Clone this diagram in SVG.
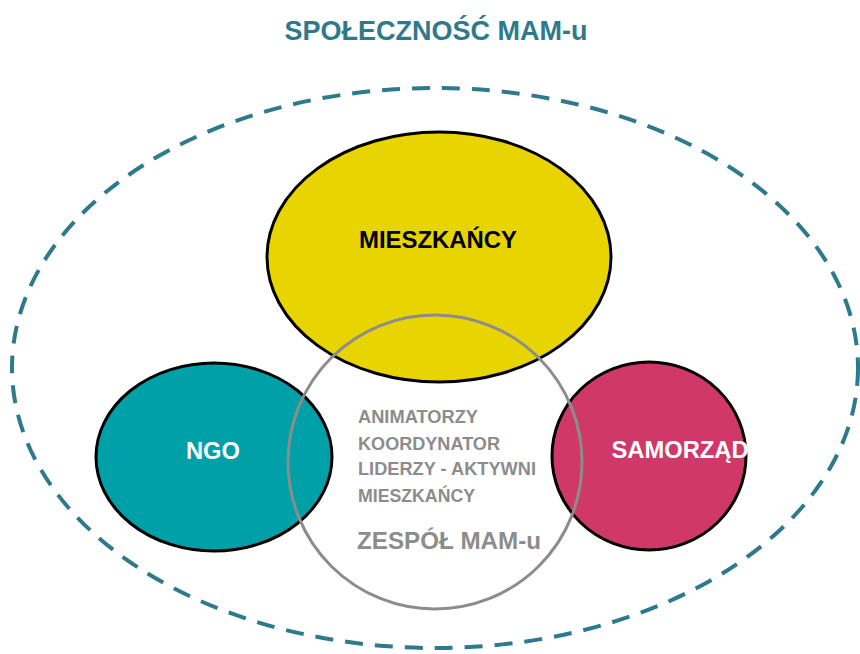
<svg xmlns="http://www.w3.org/2000/svg" width="860" height="654" viewBox="0 0 860 654">
<style>
text{font-family:"Liberation Sans",Arial,sans-serif;font-weight:bold}
.title{fill:#2E7A8C;font-size:28px}
.node{stroke:#000;stroke-width:3}
.lbl{font-size:24px;text-anchor:middle}
.team{fill:#8C8C8C;font-size:18.5px}
</style>
<rect width="860" height="654" fill="#fff"/>
<text class="title" x="436" y="40" text-anchor="middle" textLength="303" lengthAdjust="spacingAndGlyphs">SPOŁECZNOŚĆ MAM-u</text>
<g id="community">
<ellipse cx="435" cy="368" rx="423" ry="280" fill="none" stroke="#2E7A8C" stroke-width="4" stroke-dasharray="18 12"/>
</g>
<g id="mieszkancy">
<ellipse class="node" cx="439" cy="257" rx="172" ry="125" fill="#E8D400"/>
<text class="lbl" x="438" y="248" fill="#000" textLength="158" lengthAdjust="spacingAndGlyphs">MIESZKAŃCY</text>
</g>
<g id="ngo">
<ellipse class="node" cx="214" cy="457" rx="118" ry="94" fill="#00A0A8"/>
<text class="lbl" x="213" y="459" fill="#fff" textLength="54" lengthAdjust="spacingAndGlyphs">NGO</text>
</g>
<g id="samorzad">
<ellipse class="node" cx="649" cy="456" rx="97" ry="94" fill="#D0386A"/>
<text class="lbl" x="680" y="458" fill="#fff" textLength="137" lengthAdjust="spacingAndGlyphs">SAMORZĄD</text>
</g>
<g id="zespol">
<circle cx="435" cy="462" r="147" fill="none" stroke="#8C8C8C" stroke-width="3"/>
<text class="team" x="358" y="423" textLength="120" lengthAdjust="spacingAndGlyphs">ANIMATORZY</text>
<text class="team" x="358" y="450" textLength="142" lengthAdjust="spacingAndGlyphs">KOORDYNATOR</text>
<text class="team" x="358" y="475" textLength="178" lengthAdjust="spacingAndGlyphs">LIDERZY - AKTYWNI</text>
<text class="team" x="358" y="502" textLength="117" lengthAdjust="spacingAndGlyphs">MIESZKAŃCY</text>
<text class="team" x="357" y="549" style="font-size:24px" textLength="184" lengthAdjust="spacingAndGlyphs">ZESPÓŁ MAM-u</text>
</g>
<g id="connectors"></g>
</svg>
